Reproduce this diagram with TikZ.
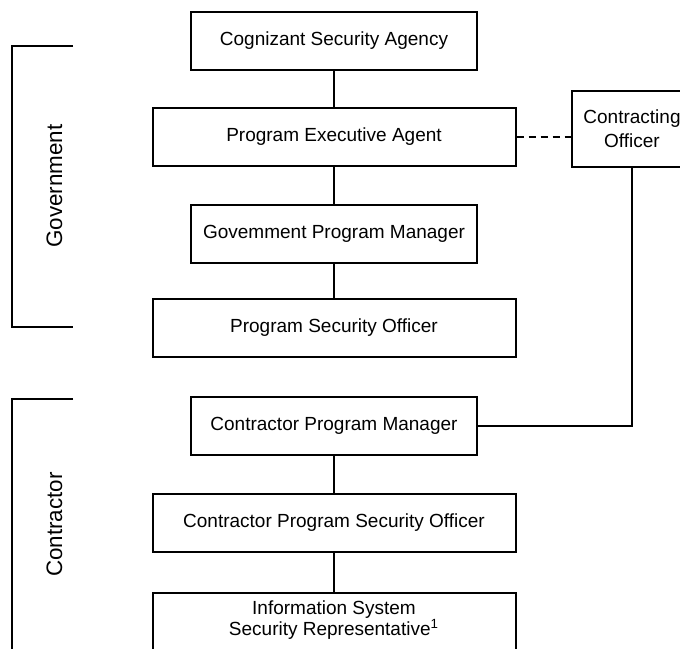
\documentclass[tikz,border=0pt]{standalone}
\usepackage{fontspec}
\setmainfont{Liberation Sans}
\usetikzlibrary{positioning}
\newcommand\tightlines{\lineskiplimit=-5pt\relax}

\begin{document}
\begin{tikzpicture}[x=0.5pt, y=-0.5pt,
  orgbox/.style={draw, line width=1pt, minimum height=29pt, inner sep=2pt,
    align=center, font=\fontsize{9.5}{10.6}\selectfont\tightlines},
  narrowbox/.style={orgbox, minimum width=143pt},
  widebox/.style={orgbox, minimum width=181.5pt},
  link/.style={line width=1pt},
  sidelabel/.style={rotate=90, anchor=base, font=\fontsize{11.2}{13}\selectfont}]

\useasboundingbox (0,0) rectangle (680,648);

\node[narrowbox] (csa) at (334,40.5) {Cognizant Security Agency};
\node[widebox] (pea) at (334,137) {Program Executive Agent};
\node[narrowbox] (gpm) at (334,233.5) {Govemment Program Manager};
\node[widebox] (pso) at (334,328) {Program Security Officer};
\node[narrowbox] (cpm) at (334,425.5) {Contractor Program Manager};
\node[widebox] (cpso) at (334,523) {Contractor Program Security Officer};
\node[widebox, anchor=north, inner ysep=4pt, text depth=20pt] (issr) at (334,592)
  {Information System\\Security Representative\textsuperscript{1}};
\node[orgbox, minimum width=60pt, minimum height=38pt,
  font=\fontsize{9.5}{12}\selectfont] (co) at (632,129) {Contracting\\Officer};

\draw[link] (csa.south) -- (pea.north);
\draw[link] (pea.south) -- (gpm.north);
\draw[link] (gpm.south) -- (pso.north);
\draw[link] (cpm.south) -- (cpso.north);
\draw[link] (cpso.south) -- (issr.north);
\draw[link, dash pattern=on 3.5pt off 2.5pt] (pea.east) -- (pea.east -| co.west);
\draw[link] (co.south) |- (cpm.east);

% side brackets
\draw[link] (73,46) -- (12,46) -- (12,327) -- (73,327);
\draw[link] (73,399) -- (12,399) -- (12,660);
\node[sidelabel] (gov) at (62,186) {Government};
\node[sidelabel] (con) at (62,524.5) {Contractor};

\end{tikzpicture}
\end{document}
